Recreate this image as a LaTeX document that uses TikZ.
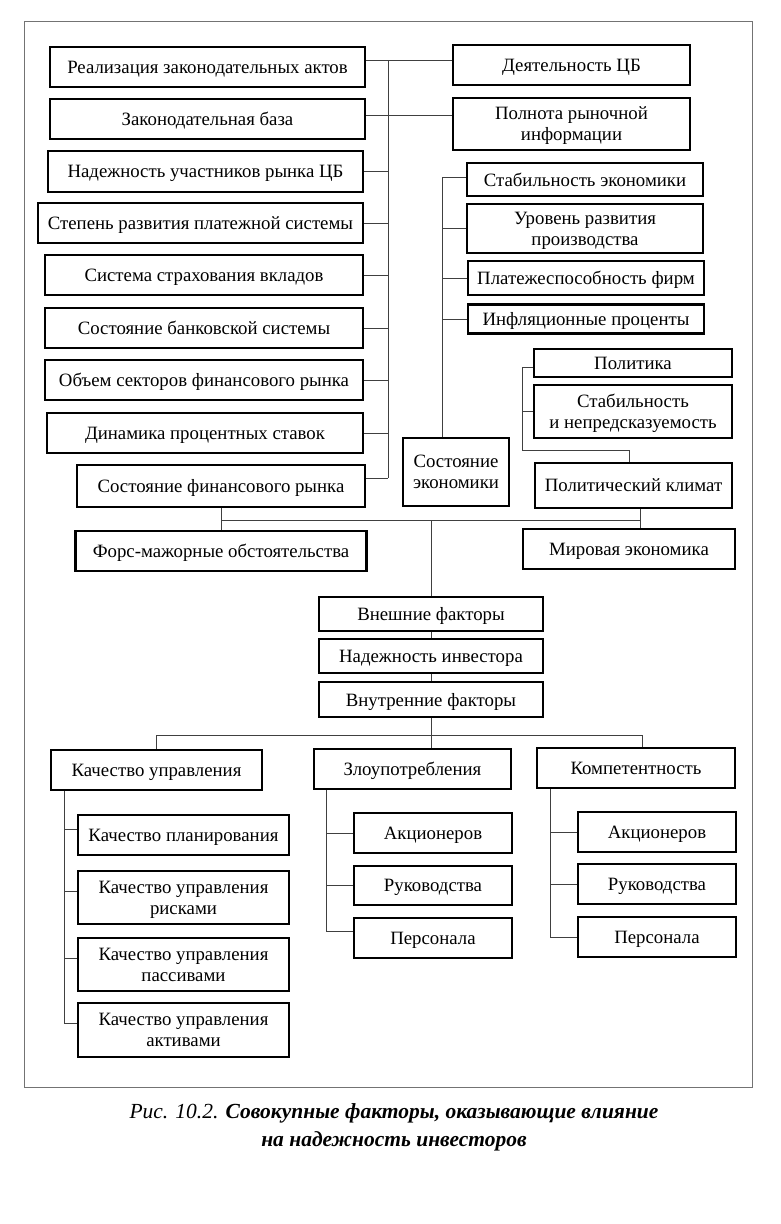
\documentclass[tikz,border=0pt]{standalone}
\usepackage{fontspec}
\setmainfont{Liberation Serif}
\begin{document}
\begin{tikzpicture}[x=1pt,y=-1pt,
  box/.style={draw=black,line width=2.6pt,inner sep=0pt,align=center,text depth=0pt,
    font=\fontsize{18.8}{21}\selectfont},
  link/.style={draw=black!75,line width=1pt},
  frame/.style={draw=black!55,line width=1pt}]
\useasboundingbox (0,0) rectangle (780,1224);
\draw[frame] (24,21) rectangle (752,1087);
% left column
\node[box,minimum width=315pt,minimum height=40pt] (L1) at (207.5,67) {Реализация законодательных актов};
\node[box,minimum width=315pt,minimum height=40pt] (L2) at (207.5,119) {Законодательная база};
\node[box,minimum width=315pt,minimum height=41pt] (L3) at (205.5,171.5) {Надежность участников рынка ЦБ};
\node[box,minimum width=325pt,minimum height=40pt] (L4) at (200.5,223) {Степень развития платежной системы};
\node[box,minimum width=318pt,minimum height=40pt] (L5) at (204,275) {Система страхования вкладов};
\node[box,minimum width=318pt,minimum height=40pt] (L6) at (204,328) {Состояние банковской системы};
\node[box,minimum width=318pt,minimum height=40pt] (L7) at (204,380) {Объем секторов финансового рынка};
\node[box,minimum width=316pt,minimum height=40pt] (L8) at (205,433) {Динамика процентных ставок};
\node[box,minimum width=288pt,minimum height=42pt] (L9) at (221,486) {Состояние финансового рынка};
% right column
\node[box,minimum width=237pt,minimum height=40pt] (R1) at (571.5,65) {Деятельность ЦБ};
\node[box,minimum width=237pt,minimum height=52pt] (R2) at (571.5,124) {Полнота рыночной\\информации};
\node[box,minimum width=236pt,minimum height=33pt] (E1) at (585,179.5) {Стабильность экономики};
\node[box,minimum width=236pt,minimum height=49pt] (E2) at (585,228.5) {Уровень развития\\производства};
\node[box,minimum width=236pt,minimum height=34pt] (E3) at (586,278) {Платежеспособность фирм};
\node[box,minimum width=236pt,minimum height=29pt] (E4) at (586,319) {Инфляционные проценты};
\node[box,minimum width=106pt,minimum height=68pt] (SE) at (456,472) {Состояние\\экономики};
\node[box,minimum width=198pt,minimum height=28pt] (P1) at (633,363) {Политика};
\node[box,minimum width=198pt,minimum height=53pt] (P2) at (633,411.5) {Стабильность\\и непредсказуемость};
\node[box,minimum width=197pt,minimum height=45pt] (PK) at (633.5,485.5) {Политический климат};
\node[box,minimum width=291pt,minimum height=40pt] (FM) at (221,551) {Форс-мажорные обстоятельства};
\node[box,minimum width=212pt,minimum height=40pt] (ME) at (629,549) {Мировая экономика};
% centre
\node[box,minimum width=224pt,minimum height=34pt] (VF) at (431,614) {Внешние факторы};
\node[box,minimum width=224pt,minimum height=34pt] (NI) at (431,656) {Надежность инвестора};
\node[box,minimum width=224pt,minimum height=35pt] (VN) at (431,699.5) {Внутренние факторы};
% bottom
\node[box,minimum width=211pt,minimum height=40pt] (KU) at (156.5,770) {Качество управления};
\node[box,minimum width=197pt,minimum height=40pt] (ZL) at (412.5,769) {Злоупотребления};
\node[box,minimum width=198pt,minimum height=40pt] (KM) at (636,768) {Компетентность};
\node[box,minimum width=211pt,minimum height=40pt] (K1) at (183.5,835) {Качество планирования};
\node[box,minimum width=211pt,minimum height=53pt] (K2) at (183.5,897.5) {Качество управления\\рисками};
\node[box,minimum width=211pt,minimum height=53pt] (K3) at (183.5,964.5) {Качество управления\\пассивами};
\node[box,minimum width=211pt,minimum height=54pt] (K4) at (183.5,1030) {Качество управления\\активами};
\node[box,minimum width=158pt,minimum height=40pt] (Z1) at (433,833) {Акционеров};
\node[box,minimum width=158pt,minimum height=39pt] (Z2) at (433,885.5) {Руководства};
\node[box,minimum width=158pt,minimum height=40pt] (Z3) at (433,938) {Персонала};
\node[box,minimum width=158pt,minimum height=40pt] (C1) at (657,832) {Акционеров};
\node[box,minimum width=158pt,minimum height=40pt] (C2) at (657,884) {Руководства};
\node[box,minimum width=158pt,minimum height=40pt] (C3) at (657,937) {Персонала};
% caption
\node[align=center,font=\fontsize{21.5}{28}\selectfont\itshape] (cap) at (394,1127)
  {Рис. 10.2. \textbf{Совокупные факторы, оказывающие влияние}\\\textbf{на надежность инвесторов}};
% connectors: left bus
\coordinate (busT) at (388,60);
\coordinate (busB) at (388,478);
\draw[link] (busT) -- (busB);
\draw[link] ([yshift=7pt]L1.east) -- ([yshift=7pt]L1.east -| R1.west);
\draw[link] ([yshift=4pt]L2.east) -- ([yshift=4pt]L2.east -| R2.west);
\foreach \n in {L3,L4,L5,L6,L7,L8}
  \draw[link] (\n.east) -- (\n.east -| busT);
\draw[link] ([yshift=8pt]L9.east) -- ([yshift=8pt]L9.east -| busT);
% economy bus
\coordinate (eb) at ([xshift=-14pt]SE.north);
\draw[link] ([yshift=2.5pt]E1.west) -| (eb);
\foreach \n in {E2,E3,E4}
  \draw[link] (\n.west) -- (\n.west -| eb);
% politics
\coordinate (pb) at (522,450);
\draw[link] ([yshift=-4pt]P1.west) -| (pb) -| ([xshift=-4.5pt]PK.north);
\draw[link] (P2.west) -- (P2.west -| pb);
% middle junction
\coordinate (hb) at (431,520);
\draw[link] (L9.south) -- (FM.north);
\draw[link] ([xshift=6.5pt]PK.south) -- ([xshift=6.5pt]PK.south |- ME.north);
\draw[link] (L9.south |- hb) -- ([xshift=6.5pt]PK.south |- hb);
\draw[link] (hb) -- (VF.north);
\draw[link] (VF.south) -- (NI.north);
\draw[link] (NI.south) -- (VN.north);
% lower junction
\coordinate (hb2) at (431,735);
\draw[link] (VN.south) -- (VN.south |- ZL.north);
\draw[link] (KU.north) |- ([xshift=6pt]KM.north |- hb2) -- ([xshift=6pt]KM.north);
% sub-trees
\coordinate (kb) at ([xshift=15pt]KU.south west);
\draw[link] (kb) |- ([yshift=7pt]K4.west);
\foreach \n in {K1,K2,K3}
  \draw[link] ([yshift=6pt]\n.west) -- ([yshift=6pt]\n.west -| kb);
\coordinate (zb) at ([xshift=14pt]ZL.south west);
\draw[link] (zb) |- ([yshift=7pt]Z3.west);
\foreach \n in {Z1,Z2}
  \draw[link] (\n.west) -- (\n.west -| zb);
\coordinate (cb) at ([xshift=15pt]KM.south west);
\draw[link] (cb) |- (C3.west);
\foreach \n in {C1,C2}
  \draw[link] (\n.west) -- (\n.west -| cb);
\end{tikzpicture}
\end{document}
